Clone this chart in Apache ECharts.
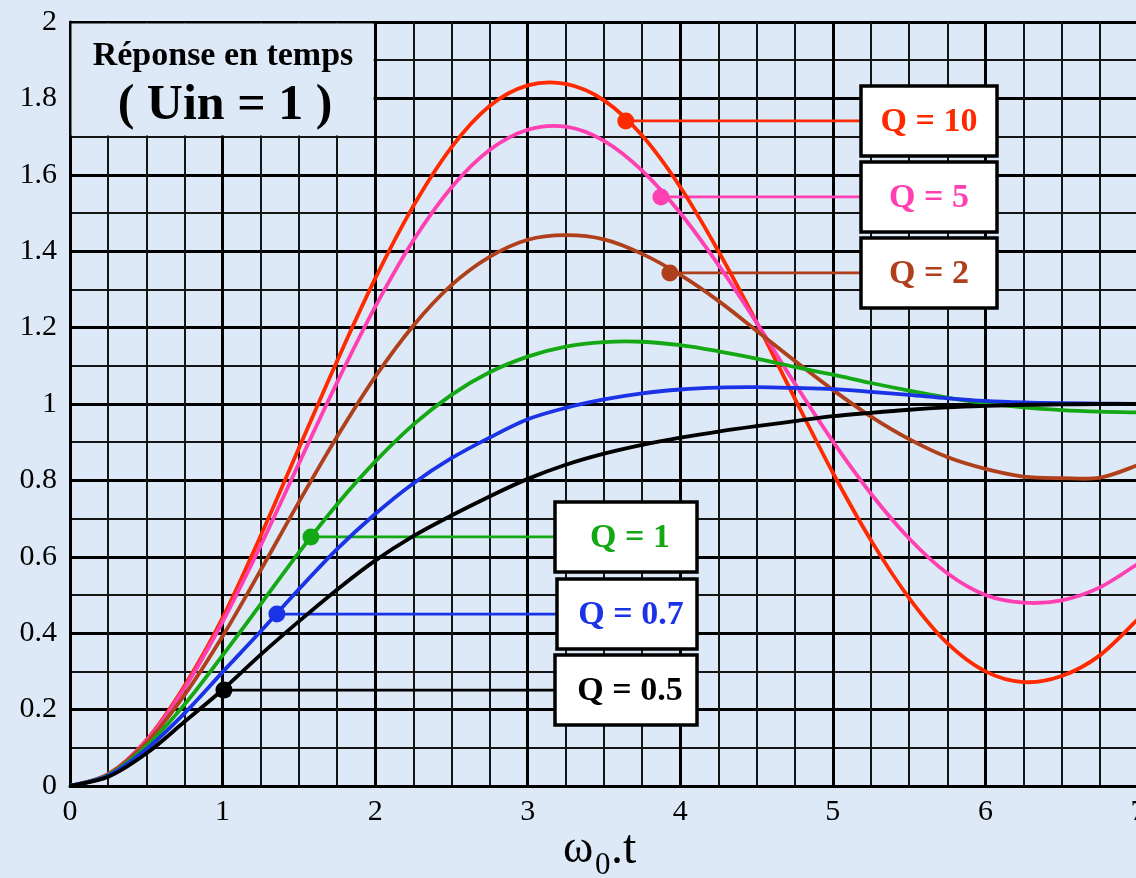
<!DOCTYPE html>
<html>
<head>
<meta charset="utf-8">
<script src="https://cdn.jsdelivr.net/npm/echarts@6/dist/echarts.min.js"></script>
<style>
  html, body { margin: 0; padding: 0; background: #dde9f7; }
  #chart { width: 1136px; height: 878px; }
</style>
</head>
<body>
<div id="chart"></div>
<script>
// Normalised time axis ω0.t, sampled every 0.25
const tValues = [0, 0.25, 0.5, 0.75, 1, 1.25, 1.5, 1.75, 2, 2.25, 2.5, 2.75, 3, 3.25, 3.5,
                 3.75, 4, 4.25, 4.5, 4.75, 5, 5.25, 5.5, 5.75, 6, 6.25, 6.5, 6.75, 7];

// Step response of the second-order filter for each quality factor
const yQ10 = [0, 0.031, 0.120, 0.262, 0.440, 0.655, 0.884, 1.112, 1.328, 1.518, 1.672, 1.780, 1.834, 1.838,
              1.795, 1.703, 1.568, 1.400, 1.214, 1.015, 0.820, 0.643, 0.492, 0.374, 0.300, 0.272, 0.288, 0.342, 0.437];
const yQ5  = [0, 0.031, 0.118, 0.256, 0.430, 0.630, 0.844, 1.056, 1.254, 1.428, 1.567, 1.665, 1.718, 1.726,
              1.689, 1.611, 1.500, 1.364, 1.213, 1.054, 0.902, 0.765, 0.648, 0.557, 0.500, 0.480, 0.486, 0.520, 0.582];
const yQ2  = [0, 0.030, 0.113, 0.238, 0.392, 0.565, 0.743, 0.914, 1.071, 1.205, 1.311, 1.385, 1.430, 1.442,
              1.431, 1.393, 1.338, 1.270, 1.192, 1.113, 1.037, 0.967, 0.908, 0.861, 0.830, 0.810, 0.806, 0.807, 0.840];
const yQ1  = [0, 0.029, 0.104, 0.213, 0.342, 0.476, 0.611, 0.737, 0.849, 0.946, 1.024, 1.083, 1.124, 1.150,
              1.162, 1.163, 1.154, 1.138, 1.119, 1.097, 1.077, 1.055, 1.035, 1.017, 1.002, 0.991, 0.984, 0.980, 0.978];
const yQ07 = [0, 0.027, 0.096, 0.190, 0.298, 0.405, 0.515, 0.620, 0.712, 0.792, 0.858, 0.912, 0.960, 0.990,
              1.012, 1.028, 1.038, 1.043, 1.044, 1.042, 1.039, 1.032, 1.024, 1.015, 1.008, 1.004, 1.002, 1.001, 1.000];
const yQ05 = [0, 0.024, 0.085, 0.168, 0.252, 0.344, 0.431, 0.514, 0.590, 0.654, 0.708, 0.758, 0.804, 0.841,
              0.870, 0.893, 0.912, 0.928, 0.942, 0.955, 0.968, 0.977, 0.985, 0.991, 0.995, 0.998, 0.999, 1.000, 1.000];

// Tags: text, colour, and the point on each curve the tag points to
const seriesNames  = ['Q = 10', 'Q = 5', 'Q = 2', 'Q = 1', 'Q = 0.7', 'Q = 0.5'];
const seriesColors = ['#ff2a00', '#ff3fb2', '#b0401c', '#14a814', '#1a33e6', '#000000'];
const markerT = [3.643, 3.873, 3.932, 1.579, 1.356, 1.009];
const markerY = [1.741, 1.542, 1.343, 0.652, 0.450, 0.251];

const seriesValues = [yQ10, yQ5, yQ2, yQ1, yQ07, yQ05];

const chart = echarts.init(document.getElementById('chart'), null, { renderer: 'canvas' });
const serif = 'Liberation Serif';

// Smooth curve through the samples: one Catmull-Rom cubic per interval,
// with every point placed through the cartesian axes (api.coord).
function curveSeries(vals, color, name) {
  const n = tValues.length;
  const at = k => {
    const j = Math.max(0, Math.min(n - 1, k));
    return [tValues[j], vals[j]];
  };
  return {
    type: 'custom',
    name: name,
    coordinateSystem: 'cartesian2d',
    silent: true,
    clip: true,
    z: 3,
    encode: { x: 0, y: 1 },
    data: tValues.map((t, k) => [t, vals[k]]),
    renderItem: (params, api) => {
      const i = params.dataIndex;
      if (i >= n - 1) return null;
      const p0 = api.coord(at(i - 1)), p1 = api.coord(at(i)),
            p2 = api.coord(at(i + 1)), p3 = api.coord(at(i + 2));
      return {
        type: 'bezierCurve',
        shape: {
          x1: p1[0], y1: p1[1], x2: p2[0], y2: p2[1],
          cpx1: p1[0] + (p2[0] - p0[0]) / 6, cpy1: p1[1] + (p2[1] - p0[1]) / 6,
          cpx2: p2[0] - (p3[0] - p1[0]) / 6, cpy2: p2[1] - (p3[1] - p1[1]) / 6
        },
        style: { stroke: color, lineWidth: 3.8, fill: 'none', lineCap: 'round' }
      };
    }
  };
}

const curves = seriesValues.map((vals, i) => curveSeries(vals, seriesColors[i], seriesNames[i]));

const dotSeries = {
  type: 'scatter',
  symbolSize: 17,
  silent: true,
  z: 6,
  itemStyle: { opacity: 1 },
  data: markerT.map((t, i) => ({ value: [t, markerY[i]], itemStyle: { color: seriesColors[i], opacity: 1 } }))
};

chart.setOption({
  animation: false,
  backgroundColor: '#dde9f7',
  grid: { left: 70, top: 22, width: 1068, height: 764, containLabel: false, outerBoundsMode: 'none' },
  xAxis: {
    type: 'value', min: 0, max: 7, interval: 1,
    axisLine: { show: true, onZero: false, lineStyle: { color: '#000', width: 3 } },
    axisTick: { show: false },
    axisLabel: { color: '#000', fontFamily: serif, fontSize: 30, margin: 11 },
    splitLine: { show: true, lineStyle: { color: '#000', width: 3 } },
    minorTick: { show: false, splitNumber: 4 },
    minorSplitLine: { show: true, lineStyle: { color: '#151515', width: 2 } }
  },
  yAxis: {
    type: 'value', min: 0, max: 2, interval: 0.2,
    axisLine: { show: true, onZero: false, lineStyle: { color: '#000', width: 3 } },
    axisTick: { show: false },
    axisLabel: { color: '#000', fontFamily: serif, fontSize: 30, margin: 13 },
    splitLine: { show: true, lineStyle: { color: '#000', width: 3 } },
    minorTick: { show: false, splitNumber: 2 },
    minorSplitLine: { show: true, lineStyle: { color: '#151515', width: 2 } }
  },
  series: curves.concat([dotSeries])
});

// Overlays: title panel, tag boxes with leader lines, axis title
const px = (x, y) => chart.convertToPixel({ gridIndex: 0 }, [x, y]);
const tl = px(0, 2), br = px(2, 1.7);

const graphics = [];
graphics.push({
  type: 'rect', z: 1, silent: true,
  shape: { x: tl[0] + 1.5, y: tl[1] + 1.5, width: br[0] - tl[0] - 3, height: br[1] - tl[1] - 2.5 },
  style: { fill: '#dde9f7' }
});
graphics.push({
  type: 'text', z: 10, silent: true, x: 223, y: 56,
  style: { text: 'Réponse en temps', font: 'bold 34px ' + serif, fill: '#000', align: 'center', verticalAlign: 'middle' }
});
graphics.push({
  type: 'text', z: 10, silent: true, x: 225, y: 106,
  style: { text: '( Uin = 1 )', font: 'bold 50px ' + serif, fill: '#000', align: 'center', verticalAlign: 'middle' }
});

// Tag layout: right-hand group for the resonant curves, lower group for the damped ones
const boxLeft  = [861, 861, 861, 555, 557, 555];
const boxWidth = [136, 136, 136, 142, 140, 142];
const boxHeight = 70;

markerT.forEach((t, i) => {
  const p = px(t, markerY[i]);
  graphics.push({
    type: 'line', z: 2, silent: true,
    shape: { x1: p[0], y1: p[1], x2: boxLeft[i], y2: p[1] },
    style: { stroke: seriesColors[i], lineWidth: 2.8 }
  });
  graphics.push({
    type: 'rect', z: 8, silent: true,
    shape: { x: boxLeft[i], y: p[1] - boxHeight / 2, width: boxWidth[i], height: boxHeight },
    style: { fill: '#ffffff', stroke: '#000', lineWidth: 3.5 }
  });
  graphics.push({
    type: 'text', z: 9, silent: true,
    x: boxLeft[i] + boxWidth[i] / 2 + (i >= 3 ? 4 : 0), y: p[1] + 1,
    style: { text: seriesNames[i], font: 'bold 34px ' + serif, fill: seriesColors[i], align: 'center', verticalAlign: 'middle' }
  });
});

// Axis title ω0.t with subscript
graphics.push({ type: 'text', z: 10, silent: true, x: 563, y: 850,
  style: { text: 'ω', font: '46px ' + serif, fill: '#000', align: 'left', verticalAlign: 'middle' } });
graphics.push({ type: 'text', z: 10, silent: true, x: 595, y: 866,
  style: { text: '0', font: '31px ' + serif, fill: '#000', align: 'left', verticalAlign: 'middle' } });
graphics.push({ type: 'text', z: 10, silent: true, x: 611, y: 850,
  style: { text: '.t', font: '48px ' + serif, fill: '#000', align: 'left', verticalAlign: 'middle' } });

chart.setOption({ graphic: graphics });
</script>
</body>
</html>
